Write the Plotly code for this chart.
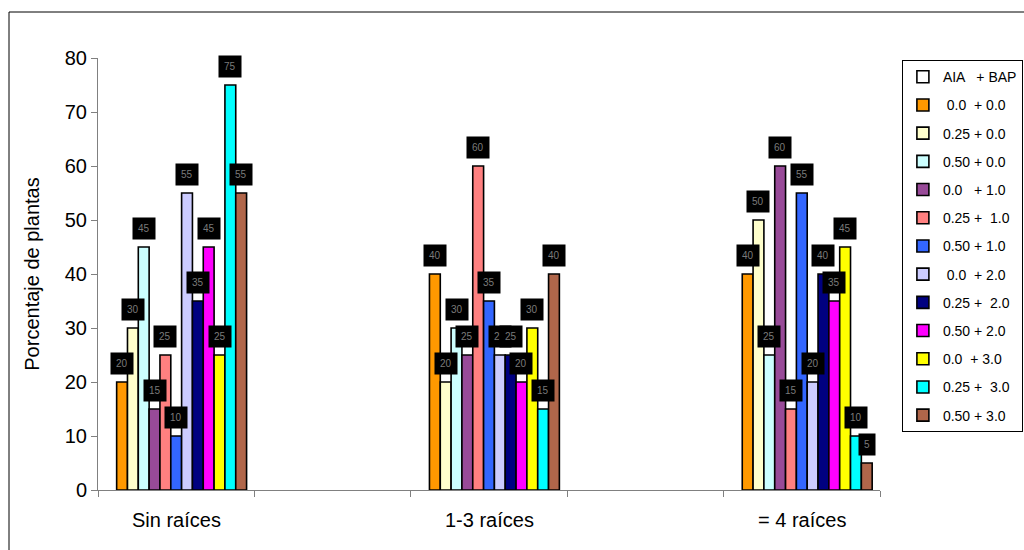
import plotly.graph_objects as go

# Root-count categories
categories = ["Sin raíces", "1-3 raíces", "= 4 raíces"]

# Treatment labels (AIA + BAP, mg/L)
series_names = [
    "AIA   + BAP",
    " 0.0  + 0.0",
    "0.25 + 0.0",
    "0.50 + 0.0",
    "0.0   + 1.0",
    "0.25 +  1.0",
    "0.50 + 1.0",
    " 0.0  + 2.0",
    "0.25 +  2.0",
    "0.50 + 2.0",
    "0.0  + 3.0",
    "0.25 +  3.0",
    "0.50 + 3.0",
]

# Percentage of plants per treatment, in category order
aia_bap = [None, None, None]
t_00_00 = [20, 40, 40]
t_25_00 = [30, 20, 50]
t_50_00 = [45, 30, 25]
t_00_10 = [15, 25, 60]
t_25_10 = [25, 60, 15]
t_50_10 = [10, 35, 55]
t_00_20 = [55, 25, 20]
t_25_20 = [35, 25, 40]
t_50_20 = [45, 20, 35]
t_00_30 = [25, 30, 45]
t_25_30 = [75, 15, 10]
t_50_30 = [55, 40, 5]

series_values = [aia_bap, t_00_00, t_25_00, t_50_00, t_00_10, t_25_10, t_50_10,
                 t_00_20, t_25_20, t_50_20, t_00_30, t_25_30, t_50_30]

colors = ["#FFFFFF", "#FF9900", "#FFFFCC", "#CCFFFF", "#984A98", "#FF8080",
          "#3366FF", "#CCCCFF", "#000080", "#FF00FF", "#FFFF00", "#00FFFF",
          "#B0664A"]

y_ticks = [0, 10, 20, 30, 40, 50, 60, 70, 80]

FONT = "Liberation Sans, Arial, sans-serif"

# categories sit at every other slot, leaving an empty slot between groups
x_pos = [0, 2, 4]
n_series = len(series_names)
group_width = 0.9
bar_w = group_width / n_series

fig = go.Figure()
for i, (name, vals, col) in enumerate(zip(series_names, series_values, colors)):
    fig.add_trace(go.Bar(
        x=x_pos, y=vals, name=name,
        marker=dict(color=col, line=dict(color="#000000", width=1.6)),
        legendgroup=f"g{i}",
    ))

# value labels above each bar
annotations = []
for i, vals in enumerate(series_values):
    offset = -group_width / 2 + (i + 0.5) * bar_w
    for xp, v in zip(x_pos, vals):
        if v is None:
            continue
        annotations.append(dict(
            x=xp + offset, y=v, xref="x", yref="y",
            text=str(v), showarrow=False,
            yanchor="bottom", yshift=7,
            font=dict(family=FONT, size=10, color="#7a7a7a"),
            bgcolor="#000000", borderpad=5,
        ))

# category labels under the axis
for xp, c in zip(x_pos, categories):
    annotations.append(dict(
        x=xp, y=0, xref="x", yref="y", text=c, showarrow=False,
        yanchor="top", yshift=-17,
        font=dict(family=FONT, size=20, color="#000000"),
    ))

fig.update_layout(
    width=1024, height=550,
    margin=dict(l=98, r=144, t=58, b=60, autoexpand=False),
    paper_bgcolor="#FFFFFF", plot_bgcolor="#FFFFFF",
    barmode="group", bargap=0.55, bargroupgap=0,
    font=dict(family=FONT, size=14, color="#000000"),
    showlegend=True,
    legend=dict(
        x=1.028, y=0.995, xanchor="left", yanchor="top",
        bgcolor="#FFFFFF", bordercolor="#000000", borderwidth=1,
        font=dict(family=FONT, size=14, color="#000000"),
        traceorder="grouped", tracegroupgap=7,
        itemwidth=30,
    ),
    xaxis=dict(
        range=[-0.5, 4.5], showgrid=False, zeroline=False,
        showline=True, linecolor="#808080", linewidth=1,
        tickvals=x_pos, ticktext=["", "", ""], ticks="",
        automargin=False,
        minor=dict(tickvals=[-0.5, 0.5, 1.5, 2.5, 3.5, 4.5],
                   ticks="outside", ticklen=6, tickcolor="#808080",
                   showgrid=False),
    ),
    yaxis=dict(
        range=[0, 80], tickvals=y_ticks, showgrid=False, zeroline=False,
        showline=True, linecolor="#808080", linewidth=1,
        ticks="outside", ticklen=6, tickcolor="#808080",
        automargin=False,
        tickfont=dict(family=FONT, size=20, color="#000000"),
        title=dict(text="Porcentaje de plantas",
                   font=dict(family=FONT, size=20, color="#000000"),
                   standoff=19),
    ),
    annotations=annotations,
    shapes=[dict(
        type="rect", xref="paper", yref="paper",
        x0=(9 - 98) / 782, x1=(1040 - 98) / 782,
        y0=(490 - 560) / 432, y1=(490 - 12) / 432,
        line=dict(color="#000000", width=1), fillcolor="rgba(0,0,0,0)",
        layer="below",
    )],
)

fig.write_html("out.html")
